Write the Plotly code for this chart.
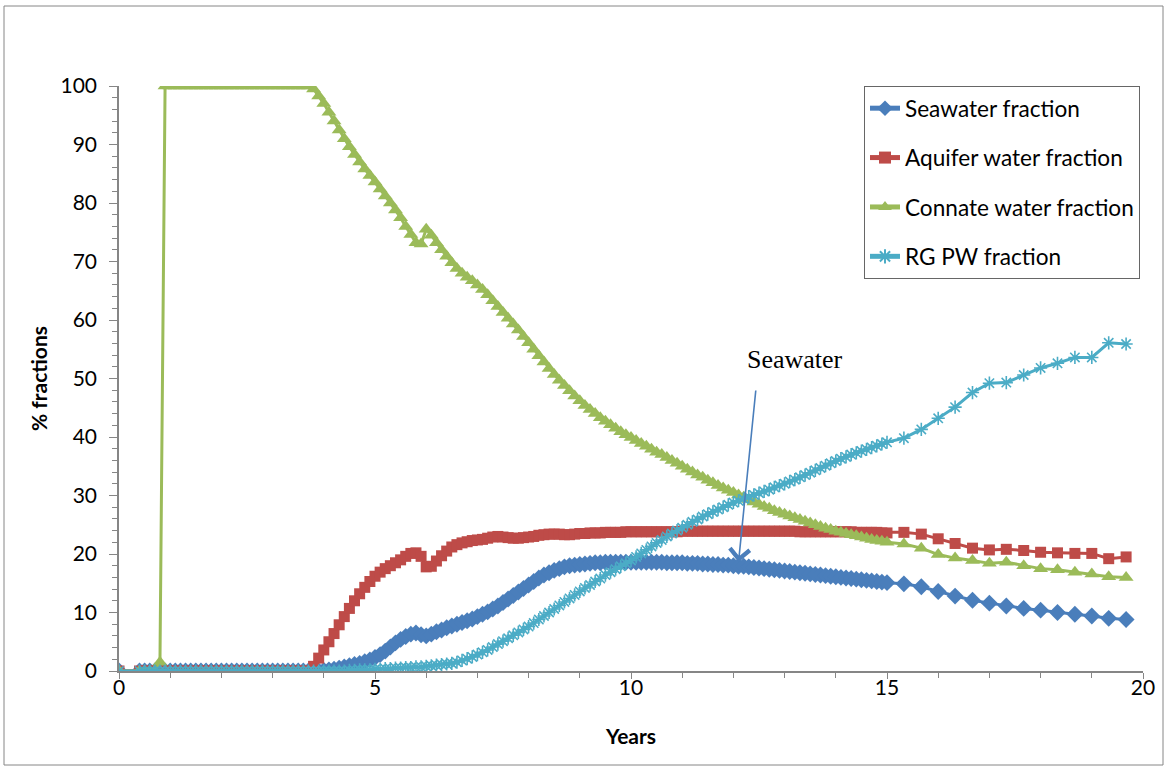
import plotly.graph_objects as go

# ---- time axis (years) ----
years = [
    0.0,
    0.4, 0.5, 0.6, 0.7, 0.8, 0.9,
    1.0, 1.1, 1.2, 1.3, 1.4, 1.5, 1.6, 1.7, 1.8, 1.9,
    2.0, 2.1, 2.2, 2.3, 2.4, 2.5, 2.6, 2.7, 2.8, 2.9,
    3.0, 3.1, 3.2, 3.3, 3.4, 3.5, 3.6, 3.7, 3.8, 3.9,
    4.0, 4.1, 4.2, 4.3, 4.4, 4.5, 4.6, 4.7, 4.8, 4.9,
    5.0, 5.1, 5.2, 5.3, 5.4, 5.5, 5.6, 5.7, 5.8, 5.9,
    6.0, 6.1, 6.2, 6.3, 6.4, 6.5, 6.6, 6.7, 6.8, 6.9,
    7.0, 7.1, 7.2, 7.3, 7.4, 7.5, 7.6, 7.7, 7.8, 7.9,
    8.0, 8.1, 8.2, 8.3, 8.4, 8.5, 8.6, 8.7, 8.8, 8.9,
    9.0, 9.1, 9.2, 9.3, 9.4, 9.5, 9.6, 9.7, 9.8, 9.9,
    10.0, 10.1, 10.2, 10.3, 10.4, 10.5, 10.6, 10.7, 10.8, 10.9,
    11.0, 11.1, 11.2, 11.3, 11.4, 11.5, 11.6, 11.7, 11.8, 11.9,
    12.0, 12.1, 12.2, 12.3, 12.4, 12.5, 12.6, 12.7, 12.8, 12.9,
    13.0, 13.1, 13.2, 13.3, 13.4, 13.5, 13.6, 13.7, 13.8, 13.9,
    14.0, 14.1, 14.2, 14.3, 14.4, 14.5, 14.6, 14.7, 14.8, 14.9,
    15.0,
    15.33, 15.67, 16.0, 16.33, 16.67, 17.0, 17.33, 17.67, 18.0, 18.33, 18.67, 19.0, 19.33, 19.67,
]

seawater = [
    0,
    0, 0, 0, 0, 0, 0,
    0, 0, 0, 0, 0, 0, 0, 0, 0, 0,
    0, 0, 0, 0, 0, 0, 0, 0, 0, 0,
    0, 0, 0, 0, 0, 0, 0, 0, 0, 0,
    0.1, 0.2, 0.3, 0.5, 0.7, 0.9, 1.1, 1.3, 1.6, 1.9,
    2.3, 2.8, 3.4, 4.1, 4.8, 5.4, 5.9, 6.3, 6.5, 6.2,
    6.0, 6.3, 6.7, 7.0, 7.4, 7.7, 8.0, 8.3, 8.6, 8.9,
    9.3, 9.7, 10.1, 10.6, 11.1, 11.7, 12.3, 12.9, 13.5, 14.1,
    14.7, 15.3, 15.9, 16.4, 16.8, 17.2, 17.5, 17.8, 18.0, 18.1,
    18.2, 18.3, 18.4, 18.5, 18.5, 18.6, 18.6, 18.6, 18.6, 18.6,
    18.6, 18.6, 18.6, 18.6, 18.6, 18.6, 18.6, 18.5, 18.5, 18.5,
    18.5, 18.4, 18.4, 18.4, 18.3, 18.3, 18.2, 18.2, 18.1, 18.1,
    18.0, 17.9, 17.9, 17.8, 17.7, 17.6, 17.5, 17.4, 17.3, 17.2,
    17.1, 17.0, 16.9, 16.8, 16.7, 16.6, 16.5, 16.4, 16.3, 16.2,
    16.1, 16.0, 15.9, 15.8, 15.7, 15.6, 15.5, 15.4, 15.3, 15.2,
    15.1,
    14.9, 14.4, 13.6, 12.8, 12.1, 11.6, 11.1, 10.7, 10.4, 10.0, 9.7, 9.4, 9.0, 8.8,
]

aquifer = [
    0,
    0, 0, 0, 0, 0, 0,
    0, 0, 0, 0, 0, 0, 0, 0, 0, 0,
    0, 0, 0, 0, 0, 0, 0, 0, 0, 0,
    0, 0, 0, 0, 0, 0, 0, 0, 0.8, 2.2,
    3.6, 5.0, 6.4, 7.9, 9.3, 10.7, 12.0, 13.2, 14.3, 15.3,
    16.2, 16.9, 17.5, 18.0, 18.5, 19.0, 19.6, 20.1, 20.2, 19.6,
    17.8, 17.9, 18.8, 19.7, 20.5, 21.2, 21.6, 21.9, 22.1, 22.3,
    22.4, 22.5, 22.7, 22.9, 23.0, 22.9, 22.8, 22.7, 22.7, 22.8,
    22.9, 23.0, 23.2, 23.3, 23.4, 23.4, 23.4, 23.3, 23.3, 23.4,
    23.5, 23.5, 23.6, 23.6, 23.6, 23.7, 23.7, 23.7, 23.7, 23.8,
    23.8, 23.8, 23.8, 23.8, 23.8, 23.8, 23.8, 23.8, 23.8, 23.8,
    23.9, 23.9, 23.9, 23.9, 23.9, 23.9, 23.9, 23.9, 23.9, 23.9,
    23.9, 23.9, 23.9, 23.9, 23.9, 23.9, 23.9, 23.9, 23.9, 23.9,
    23.9, 23.9, 23.9, 23.8, 23.8, 23.8, 23.8, 23.8, 23.8, 23.8,
    23.8, 23.8, 23.8, 23.8, 23.7, 23.7, 23.7, 23.7, 23.7, 23.6,
    23.6,
    23.7, 23.4, 22.6, 21.8, 21.0, 20.7, 20.8, 20.6, 20.3, 20.2, 20.1, 20.1, 19.2, 19.5,
]

connate = [
    0,
    0, 0, 0, 0, 1.5, 100,
    100, 100, 100, 100, 100, 100, 100, 100, 100, 100,
    100, 100, 100, 100, 100, 100, 100, 100, 100, 100,
    100, 100, 100, 100, 100, 100, 100, 100, 99.5, 98.3,
    97.0, 95.5, 94.0, 92.5, 91.0, 89.6, 88.3, 87.0, 85.8, 84.7,
    83.6, 82.4, 81.2, 80.0, 78.8, 77.5, 76.0, 74.6, 73.2, 73.0,
    75.5, 74.5, 73.2, 72.0, 70.9, 69.8, 68.8, 68.0, 67.3, 66.7,
    66.0, 65.2, 64.3, 63.3, 62.3, 61.3, 60.3, 59.3, 58.3, 57.2,
    56.1, 55.0, 53.9, 52.8, 51.7, 50.7, 49.7, 48.8, 47.9, 47.0,
    46.2, 45.4, 44.7, 44.0, 43.3, 42.7, 42.1, 41.5, 40.9, 40.4,
    39.9, 39.4, 38.9, 38.4, 37.9, 37.4, 37.0, 36.5, 36.0, 35.5,
    35.0, 34.5, 34.0, 33.5, 33.1, 32.6, 32.2, 31.7, 31.3, 30.9,
    30.5, 30.1, 29.7, 29.3, 28.9, 28.5, 28.1, 27.8, 27.4, 27.1,
    26.8, 26.5, 26.2, 25.9, 25.6, 25.3, 25.0, 24.7, 24.4, 24.2,
    23.9, 23.7, 23.5, 23.3, 23.1, 22.9, 22.7, 22.5, 22.3, 22.2,
    22.0,
    21.7, 21.0, 19.9, 19.3, 18.9, 18.4, 18.6, 18.0, 17.5, 17.3, 16.9, 16.6, 16.1, 16.0,
]

rg_pw = [
    0,
    0, 0, 0, 0, 0, 0,
    0, 0, 0, 0, 0, 0, 0, 0, 0, 0,
    0, 0, 0, 0, 0, 0, 0, 0, 0, 0,
    0, 0, 0, 0, 0, 0, 0, 0, 0, 0,
    0, 0, 0, 0, 0, 0.1, 0.1, 0.2, 0.2, 0.2,
    0.3, 0.3, 0.4, 0.4, 0.5, 0.5, 0.6, 0.6, 0.7, 0.7,
    0.8, 0.9, 1.0, 1.1, 1.2, 1.3, 1.5, 1.8, 2.1, 2.4,
    2.8, 3.2, 3.6, 4.1, 4.6, 5.1, 5.6, 6.1, 6.6, 7.1,
    7.6, 8.2, 8.8, 9.4, 10.0, 10.6, 11.2, 11.8, 12.4, 13.0,
    13.6, 14.2, 14.7, 15.3, 15.8, 16.4, 16.9, 17.4, 17.9, 18.4,
    18.9, 19.5, 20.1, 20.7, 21.3, 21.9, 22.4, 23.0, 23.5, 24.0,
    24.5, 25.0, 25.5, 25.9, 26.4, 26.8, 27.2, 27.6, 28.0, 28.4,
    28.8, 29.1, 29.4, 29.8, 30.1, 30.4, 30.7, 31.0, 31.4, 31.7,
    32.0, 32.4, 32.7, 33.1, 33.5, 33.9, 34.3, 34.7, 35.1, 35.5,
    35.9, 36.3, 36.6, 37.0, 37.3, 37.6, 37.9, 38.2, 38.5, 38.8,
    39.1,
    39.8, 41.3, 43.2, 45.1, 47.6, 49.2, 49.3, 50.6, 51.8, 52.6, 53.6, 53.6, 56.1, 55.9,
]

series_names = ["Seawater fraction", "Aquifer water fraction",
                "Connate water fraction", "RG PW fraction"]
x_ticks = [0, 5, 10, 15, 20]
y_ticks = [0, 10, 20, 30, 40, 50, 60, 70, 80, 90, 100]

FONT = "Lato"
AXIS_COL = "#868686"

styles = [
    dict(color="#4A7EBB", symbol="diamond", size=13),
    dict(color="#BE4B48", symbol="square", size=11),
    dict(color="#9BBB59", symbol="triangle-up", size=13),
    dict(color="#4BACC6", symbol="asterisk-open", size=11),
]

fig = go.Figure()
for name, ys, st in zip(series_names, [seawater, aquifer, connate, rg_pw], styles):
    marker = dict(symbol=st["symbol"], size=st["size"], color=st["color"])
    if st["symbol"].endswith("open"):
        marker["line"] = dict(color=st["color"], width=1.6)
    else:
        marker["line"] = dict(width=0)
    fig.add_trace(go.Scatter(
        x=years, y=ys, name=name, mode="lines+markers",
        line=dict(color=st["color"], width=3),
        marker=marker, legendgroup=name,
    ))

fig.update_layout(
    width=1166, height=769,
    margin=dict(l=119, r=23, t=86, b=98, autoexpand=False),
    paper_bgcolor="white", plot_bgcolor="white",
    font=dict(family=FONT, size=21, color="black"),
    showlegend=True,
    legend=dict(
        x=(864 - 119) / 1024, y=1.0, xanchor="left", yanchor="top",
        bordercolor="#666666", borderwidth=1, bgcolor="white",
        font=dict(family=FONT, size=22.6, color="black"),
        traceorder="grouped", tracegroupgap=17, itemsizing="constant",
    ),
    xaxis=dict(
        range=[0, 20], tickvals=x_ticks, ticks="outside", ticklen=6,
        tickcolor=AXIS_COL, showline=True, linecolor=AXIS_COL, linewidth=1.5,
        showgrid=False, zeroline=False, ticklabelstandoff=-9,
        minor=dict(dtick=1, ticks="outside", ticklen=5, tickcolor=AXIS_COL, showgrid=False),
        tickfont=dict(family=FONT, size=21),
        title=dict(text="<b>Years</b>", font=dict(family=FONT, size=21), standoff=31),
    ),
    yaxis=dict(
        range=[0, 100], tickvals=y_ticks, ticks="outside", ticklen=8,
        tickcolor=AXIS_COL, showline=True, linecolor=AXIS_COL, linewidth=1.5,
        showgrid=False, zeroline=False, ticklabelstandoff=8,
        minor=dict(dtick=2, ticks="outside", ticklen=5, tickcolor=AXIS_COL, showgrid=False),
        tickfont=dict(family=FONT, size=21),
        title=dict(text="<b>% fractions</b>", font=dict(family=FONT, size=21), standoff=7),
    ),
)

# outer chart-area border
fig.add_shape(type="rect", xref="paper", yref="paper",
              x0=(4 - 119) / 1024, x1=(1163 - 119) / 1024,
              y0=(671 - 765) / 585, y1=(671 - 6) / 585,
              line=dict(color=AXIS_COL, width=1), layer="below")

# "Seawater" callout
fig.add_annotation(x=13.2, y=53.3, text="Seawater", showarrow=False,
                   font=dict(family="Liberation Serif", size=26, color="black"))
fig.add_annotation(x=12.1, y=18.6, ax=12.44, ay=48.2, axref="x", ayref="y",
                   text="", showarrow=True, arrowhead=4, arrowsize=2.4,
                   arrowwidth=1.6, arrowcolor="#4A7EBB")

fig.write_html("out.html", config={"displayModeBar": False},
               post_script="document.body.style.margin='0';")
